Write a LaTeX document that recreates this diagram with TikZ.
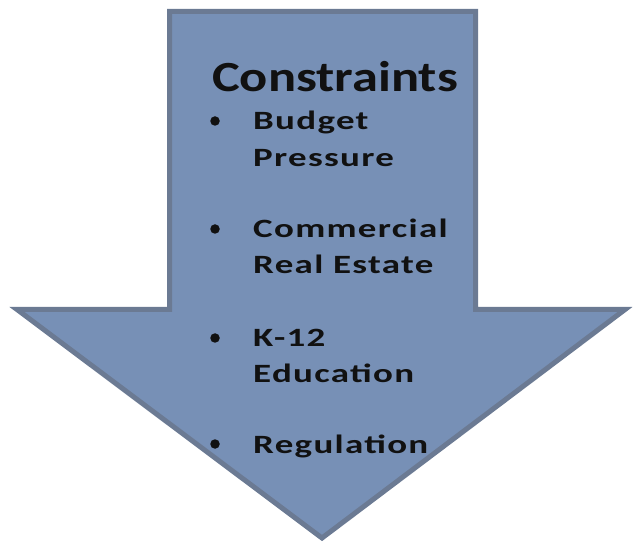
\documentclass[tikz,border=0pt]{standalone}
\usepackage{fontspec}
\newfontfamily\titlefont[FakeStretch=1.22]{Carlito Bold}
\newfontfamily\itemfont[FakeStretch=1.4,LetterSpace=5]{Carlito Bold}
\definecolor{arrowfill}{HTML}{7790B6}
\definecolor{arrowedge}{HTML}{6B7A93}
\definecolor{textcol}{HTML}{111111}
\begin{document}
\begin{tikzpicture}[x=1pt,y=1pt,
  txt/.style={inner sep=0pt,anchor=base west,text=textcol},
  ttl/.style={txt,font=\titlefont\fontsize{43}{50}\selectfont},
  itm/.style={txt,font=\itemfont\fontsize{26.4}{36}\selectfont},
  blt/.style={circle,fill=textcol,inner sep=0pt,minimum size=9.5pt}]
\useasboundingbox (0,0) rectangle (634,541);
\fill[white] (0,0) rectangle (634,541);
\draw[line width=5pt,arrowedge,fill=arrowfill,line join=miter]
  (169.5,529.5) -- (475.5,529.5) -- (475.5,231.5) -- (625,231.5)
  -- (322,3) -- (17,231.5) -- (169.5,231.5) -- cycle;
\node[ttl] (title) at (212,449) {Constraints};
\node[blt] (d1) at (215,420) {};
\node[itm] (b1a) at (253,411) {Budget};
\node[itm] (b1b) at (253,374) {Pressure};
\node[blt] (d2) at (215,312) {};
\node[itm] (b2a) at (253,303) {Commercial};
\node[itm] (b2b) at (253,267) {Real Estate};
\node[blt] (d3) at (215,203) {};
\node[itm] (b3a) at (253,194) {K-12};
\node[itm] (b3b) at (253,158) {Education};
\node[blt] (d4) at (215,97) {};
\node[itm] (b4a) at (253,88) {Regulation};
\end{tikzpicture}
\end{document}
